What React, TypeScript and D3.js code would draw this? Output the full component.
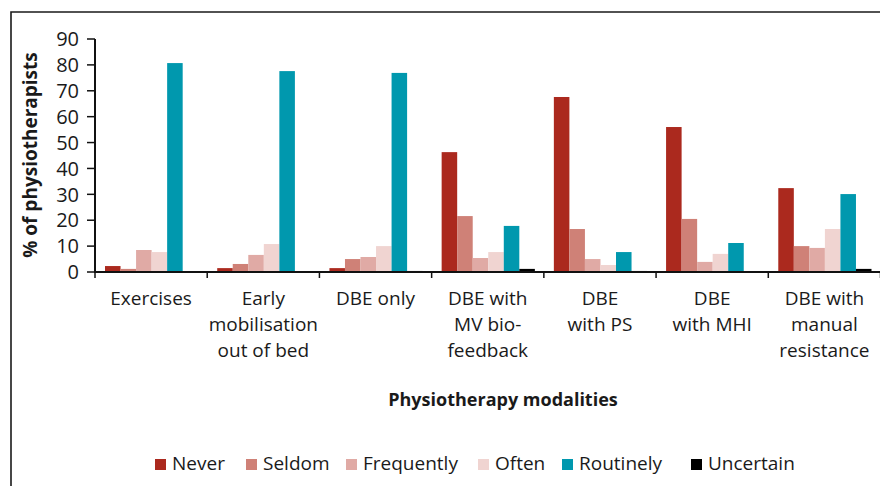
import * as d3 from 'd3'
import { useEffect, useRef } from 'react'

const categories = [
  ['Exercises'],
  ['Early', 'mobilisation', 'out of bed'],
  ['DBE only'],
  ['DBE with', 'MV bio-', 'feedback'],
  ['DBE', 'with PS'],
  ['DBE', 'with MHI'],
  ['DBE with', 'manual', 'resistance'],
]
const seriesNames = ['Never', 'Seldom', 'Frequently', 'Often', 'Routinely', 'Uncertain']
const seriesColors = ['#ab291e', '#cf8177', '#e0aaa5', '#f0d4d1', '#0098ae', '#000000']
// one row per modality, values in order of seriesNames
const values = [
  [2.3, 1.2, 8.5, 7.7, 80.7, 0],
  [1.5, 3.1, 6.6, 10.8, 77.6, 0],
  [1.5, 5.0, 5.8, 10.0, 76.9, 0.4],
  [46.3, 21.6, 5.4, 7.7, 17.8, 1.2],
  [67.6, 16.6, 5.0, 2.7, 7.7, 0.4],
  [56.0, 20.5, 3.9, 7.0, 11.2, 0],
  [32.4, 10.0, 9.3, 16.6, 30.1, 1.2],
]
const yTicks = [0, 10, 20, 30, 40, 50, 60, 70, 80, 90]
const legendX = [155, 246, 346, 478, 562, 691]

export default function App() {
  const svgRef = useRef<SVGSVGElement>(null)

  useEffect(() => {
    const svg = d3.select(svgRef.current)
    svg.selectAll('*').remove()
    const font = "'Open Sans', sans-serif"

    const x0 = d3
      .scaleBand()
      .domain(categories.map((c, i) => String(i)))
      .range([95, 880.5])
      .padding(0)
    const bw = x0.bandwidth()
    const x1 = d3.scaleBand().domain(seriesNames).range([10, bw - 9]).padding(0)
    const y = d3.scaleLinear().domain([0, 90]).range([272, 39])

    // frame
    svg.append('path').attr('d', 'M11,486V12H880').attr('fill', 'none').attr('stroke', '#1a1a1a').attr('stroke-width', 1.6)

    // bars
    const groups = svg
      .selectAll('g.cat')
      .data(values)
      .join('g')
      .attr('class', 'cat')
      .attr('transform', (d, i) => `translate(${x0(String(i))},0)`)
    groups
      .selectAll('rect')
      .data((d) => d.map((v, j) => ({ v, j })))
      .join('rect')
      .attr('x', (d) => x1(seriesNames[d.j])!)
      .attr('width', x1.bandwidth())
      .attr('y', (d) => y(d.v))
      .attr('height', (d) => y(0) - y(d.v))
      .attr('fill', (d) => seriesColors[d.j])

    // y axis
    svg.append('line').attr('x1', 95).attr('x2', 95).attr('y1', y(90)).attr('y2', y(0)).attr('stroke', '#111').attr('stroke-width', 2)
    const yt = svg.selectAll('g.yt').data(yTicks).join('g').attr('class', 'yt')
    yt.append('line').attr('x1', 87).attr('x2', 95).attr('y1', (d) => y(d)).attr('y2', (d) => y(d)).attr('stroke', '#111').attr('stroke-width', 1.5)
    yt.append('text')
      .attr('x', 79)
      .attr('y', (d) => y(d))
      .attr('dy', '0.36em')
      .attr('text-anchor', 'end')
      .attr('font-family', font)
      .attr('font-size', 20)
      .attr('fill', '#1a1a1a')
      .text((d) => d)

    // x axis
    svg.append('line').attr('x1', 94).attr('x2', 880).attr('y1', 272).attr('y2', 272).attr('stroke', '#111').attr('stroke-width', 2)
    const bounds = d3.range(categories.length + 1).map((i) => 95 + i * bw)
    svg
      .selectAll('line.xt')
      .data(bounds)
      .join('line')
      .attr('class', 'xt')
      .attr('x1', (d) => d)
      .attr('x2', (d) => d)
      .attr('y1', 272)
      .attr('y2', 278)
      .attr('stroke', '#111')
      .attr('stroke-width', 1.5)

    categories.forEach((lines, i) => {
      const cx = x0(String(i))! + bw / 2
      svg
        .append('text')
        .attr('x', cx)
        .attr('y', 305)
        .attr('text-anchor', 'middle')
        .attr('font-family', font)
        .attr('font-size', 19)
        .attr('fill', '#1a1a1a')
        .selectAll('tspan')
        .data(lines)
        .join('tspan')
        .attr('x', cx)
        .attr('dy', (d, k) => (k === 0 ? 0 : 26))
        .text((d) => d)
    })

    // titles
    svg
      .append('text')
      .attr('x', 503)
      .attr('y', 406)
      .attr('text-anchor', 'middle')
      .attr('font-family', font)
      .attr('font-weight', 'bold')
      .attr('font-size', 18)
      .attr('fill', '#1a1a1a')
      .text('Physiotherapy modalities')
    svg
      .append('text')
      .attr('transform', 'translate(37,155) rotate(-90)')
      .attr('text-anchor', 'middle')
      .attr('font-family', font)
      .attr('font-weight', 'bold')
      .attr('font-size', 19)
      .attr('fill', '#1a1a1a')
      .text('% of physiotherapists')

    // legend
    const lg = svg.selectAll('g.lg').data(seriesNames).join('g').attr('class', 'lg')
    lg.append('rect')
      .attr('x', (d, i) => legendX[i])
      .attr('y', 459)
      .attr('width', 11)
      .attr('height', 11)
      .attr('fill', (d, i) => seriesColors[i])
    lg.append('text')
      .attr('x', (d, i) => legendX[i] + 17)
      .attr('y', 470)
      .attr('font-family', font)
      .attr('font-size', 19)
      .attr('fill', '#1a1a1a')
      .text((d) => d)
  }, [])

  return (
    <svg
      ref={svgRef}
      width={880}
      height={486}
      style={{ position: 'absolute', left: 0, top: 0, background: '#fff' }}
    />
  )
}
